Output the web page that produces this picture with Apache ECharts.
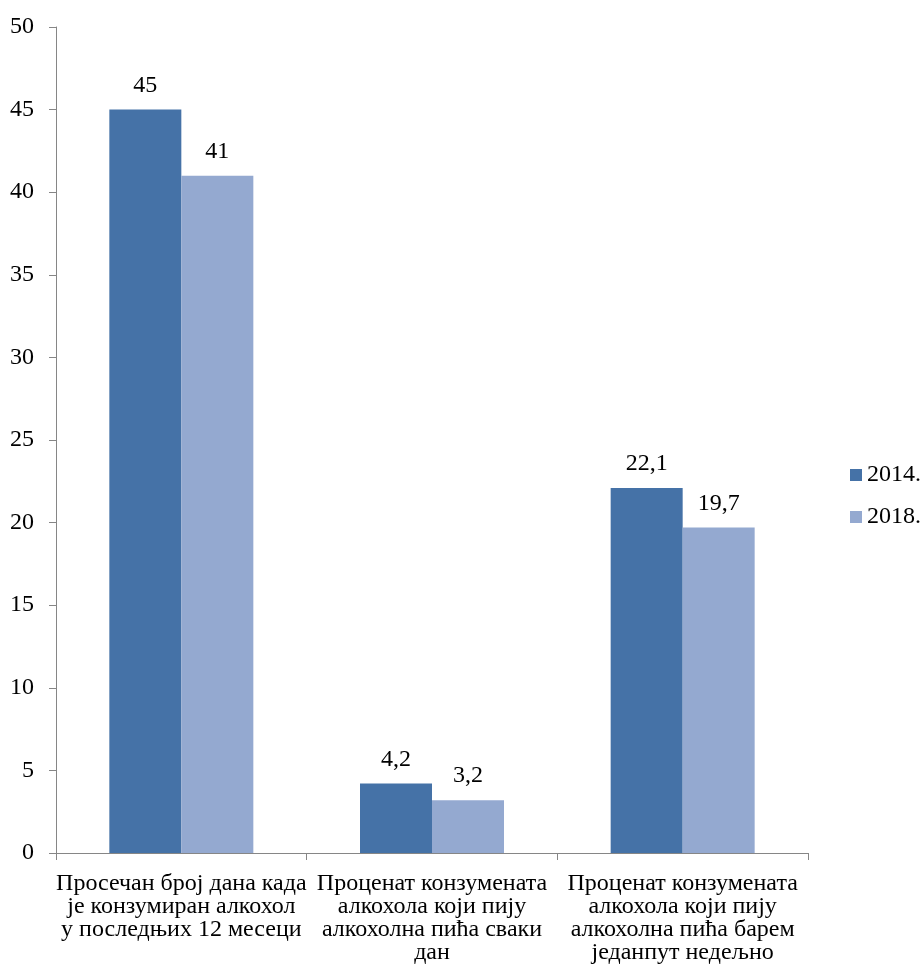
<!DOCTYPE html>
<html>
<head>
<meta charset="utf-8">
<script src="https://cdn.jsdelivr.net/npm/echarts@6/dist/echarts.min.js"></script>
<style>
  html, body { margin: 0; padding: 0; background: #ffffff; }
  #chart { width: 923px; height: 978px; }
</style>
</head>
<body>
<div id="chart"></div>
<script>
// Alcohol consumption indicators, 2014 vs 2018
const categories = [
  'Просечан број дана када\nје конзумиран алкохол\nу последњих 12 месеци',
  'Проценат конзумената\nалкохола који пију\nалкохолна пића сваки\nдан',
  'Проценат конзумената\nалкохола који пију\nалкохолна пића барем\nједанпут недељно'
];
const seriesNames = ['2014.', '2018.'];
const values2014 = [45, 4.2, 22.1];
const values2018 = [41, 3.2, 19.7];
const yTicks = { min: 0, max: 50, interval: 5 };

const FONT = '"Liberation Serif", "Times New Roman", serif';
const AXIS_COLOR = '#868686';
const fmt = v => String(v).replace('.', ',');

const chart = echarts.init(document.getElementById('chart'), null, { renderer: 'canvas' });

const valueLabel = {
  show: true, position: 'top', distance: 12,
  fontFamily: FONT, fontSize: 24, color: '#000',
  formatter: p => fmt(p.value)
};

chart.setOption({
  animation: false,
  backgroundColor: '#ffffff',
  textStyle: { fontFamily: FONT },
  grid: { left: 56, right: 115, top: 27, bottom: 125, containLabel: false },
  legend: {
    orient: 'vertical',
    left: 845,
    top: 458,
    padding: 5,
    itemWidth: 12,
    itemHeight: 12,
    itemGap: 18,
    icon: 'rect',
    textStyle: { fontFamily: FONT, fontSize: 24, color: '#000', lineHeight: 24 },
    data: seriesNames
  },
  xAxis: {
    type: 'category',
    data: categories,
    axisLine: { lineStyle: { color: AXIS_COLOR, width: 1 } },
    axisTick: { show: true, length: 7, lineStyle: { color: AXIS_COLOR } },
    axisLabel: {
      interval: 0,
      margin: 19,
      fontFamily: FONT,
      fontSize: 24,
      lineHeight: 23,
      color: '#000',
      align: 'center'
    },
    splitLine: { show: false }
  },
  yAxis: {
    type: 'value',
    min: yTicks.min,
    max: yTicks.max,
    interval: yTicks.interval,
    axisLine: { show: true, lineStyle: { color: AXIS_COLOR, width: 1 } },
    axisTick: { show: true, length: 7, lineStyle: { color: AXIS_COLOR } },
    axisLabel: { margin: 22, fontFamily: FONT, fontSize: 24, color: '#000' },
    splitLine: { show: false }
  },
  series: [
    {
      name: seriesNames[0],
      type: 'bar',
      data: values2014,
      barWidth: 72,
      barGap: '0%',
      itemStyle: { color: '#4572A7' },
      label: valueLabel
    },
    {
      name: seriesNames[1],
      type: 'bar',
      data: values2018,
      barWidth: 72,
      barGap: '0%',
      itemStyle: { color: '#94A9D0' },
      label: valueLabel
    }
  ]
});
</script>
</body>
</html>
